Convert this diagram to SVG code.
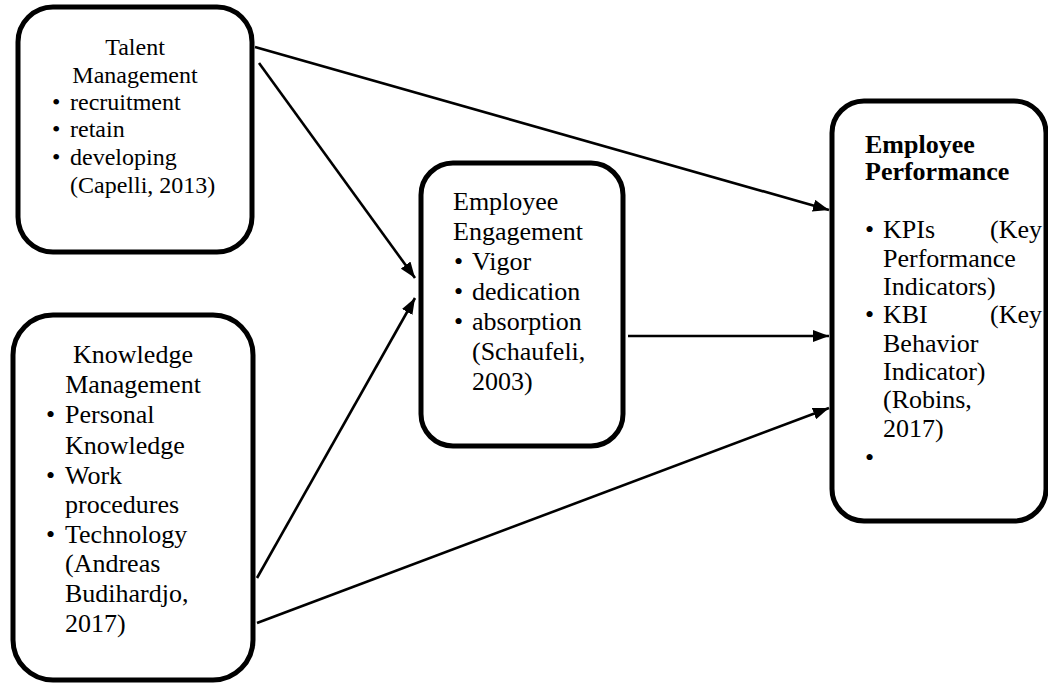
<svg xmlns="http://www.w3.org/2000/svg" width="1048" height="685" viewBox="0 0 1048 685">
<style>
.box{fill:#fff;stroke:#000;stroke-width:5}
.t{font-family:"Liberation Serif","Times New Roman",serif;fill:#000}
.s24{font-size:24px}
.s26{font-size:26px}
.b{font-weight:bold}
.c{text-anchor:middle}
.conn line{stroke:#000;stroke-width:2.6;marker-end:url(#ah)}
</style>
<defs>
<marker id="ah" viewBox="0 0 16 12" refX="16" refY="6" markerWidth="16" markerHeight="12" markerUnits="userSpaceOnUse" orient="auto">
<path d="M0,0 L16,6 L0,12 z" fill="#000"/>
</marker>
</defs>
<rect width="1048" height="685" fill="#fff"/>

<g id="talent">
<rect class="box" x="18" y="7" width="234" height="245" rx="35" ry="35"/>
<text class="t s24 c" x="135" y="55">Talent</text>
<text class="t s24 c" x="135" y="83">Management</text>
<text class="t s24" x="52" y="110">•</text><text class="t s24" x="70" y="110">recruitment</text>
<text class="t s24" x="52" y="137">•</text><text class="t s24" x="70" y="137">retain</text>
<text class="t s24" x="52" y="165">•</text><text class="t s24" x="70" y="165">developing</text>
<text class="t s24" x="70" y="193">(Capelli, 2013)</text>
</g>

<g id="knowledge">
<rect class="box" x="13" y="315" width="240" height="365" rx="40" ry="40"/>
<text class="t s26 c" x="133" y="363">Knowledge</text>
<text class="t s26 c" x="133" y="393">Management</text>
<text class="t s26" x="46" y="423">•</text><text class="t s26" x="65" y="423">Personal</text>
<text class="t s26" x="65" y="454">Knowledge</text>
<text class="t s26" x="46" y="484">•</text><text class="t s26" x="65" y="484">Work</text>
<text class="t s26" x="65" y="513">procedures</text>
<text class="t s26" x="46" y="543">•</text><text class="t s26" x="65" y="543">Technology</text>
<text class="t s26" x="65" y="572">(Andreas</text>
<text class="t s26" x="65" y="602">Budihardjo,</text>
<text class="t s26" x="65" y="632">2017)</text>
</g>

<g id="engagement">
<rect class="box" x="421" y="163" width="202" height="283" rx="32" ry="32"/>
<text class="t s26" x="453" y="210">Employee</text>
<text class="t s26" x="453" y="240">Engagement</text>
<text class="t s26" x="454" y="270">•</text><text class="t s26" x="472" y="270">Vigor</text>
<text class="t s26" x="454" y="300">•</text><text class="t s26" x="472" y="300">dedication</text>
<text class="t s26" x="454" y="330">•</text><text class="t s26" x="472" y="330">absorption</text>
<text class="t s26" x="472" y="360">(Schaufeli,</text>
<text class="t s26" x="472" y="390">2003)</text>
</g>

<g id="performance">
<rect class="box" x="832" y="101" width="214" height="420" rx="32" ry="32"/>
<text class="t s26 b" x="865" y="153">Employee</text>
<text class="t s26 b" x="865" y="180">Performance</text>
<text class="t s26" x="865" y="238">•</text><text class="t s26" x="883" y="238">KPIs</text><text class="t s26" x="1042" y="238" text-anchor="end">(Key</text>
<text class="t s26" x="883" y="267">Performance</text>
<text class="t s26" x="883" y="295">Indicators)</text>
<text class="t s26" x="865" y="323">•</text><text class="t s26" x="883" y="323">KBI</text><text class="t s26" x="1042" y="323" text-anchor="end">(Key</text>
<text class="t s26" x="883" y="352">Behavior</text>
<text class="t s26" x="883" y="380">Indicator)</text>
<text class="t s26" x="883" y="408">(Robins,</text>
<text class="t s26" x="883" y="437">2017)</text>
<text class="t s26" x="865" y="466">•</text>
</g>

<g id="connectors" class="conn">
<line x1="255" y1="47" x2="829" y2="210"/>
<line x1="259" y1="63" x2="415" y2="278"/>
<line x1="257" y1="578" x2="415" y2="298"/>
<line x1="257" y1="623" x2="829" y2="408"/>
<line x1="628" y1="336" x2="829" y2="336"/>
</g>
</svg>
